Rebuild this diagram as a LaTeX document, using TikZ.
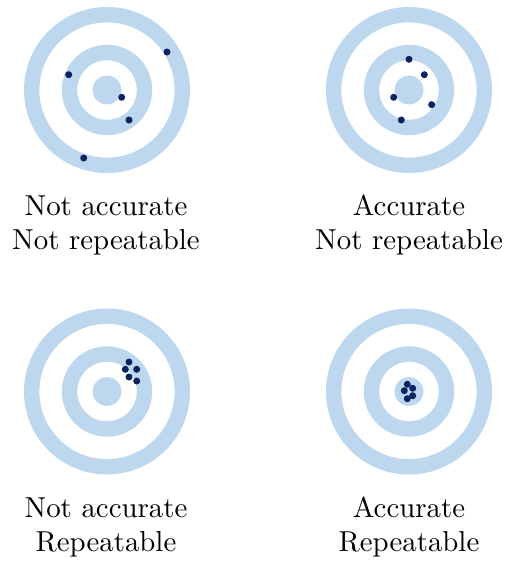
\documentclass[tikz,border=0pt]{standalone}
\definecolor{ringblue}{RGB}{189,215,238}
\definecolor{dotblue}{RGB}{10,36,99}
\tikzset{
  ring/.style={draw=ringblue, line width=5.34pt},
  bull/.style={fill=ringblue},
  hit/.style={fill=dotblue},
  lbl/.style={anchor=base, inner sep=0pt},
}
\newcommand{\target}[1]{%
  \draw[ring] (#1) circle[radius=75.3];
  \draw[ring] (#1) circle[radius=37.5];
  \fill[bull] (#1) circle[radius=14.4];
}
\begin{document}
\begin{tikzpicture}[x=0.3466pt,y=-0.3466pt]
\useasboundingbox (0,0) rectangle (504,563);
\coordinate (tA) at (107,90);
\coordinate (tB) at (409,90);
\coordinate (tC) at (107,391.5);
\coordinate (tD) at (409,391.5);
\target{tA}
\target{tB}
\target{tC}
\target{tD}
% hits
\foreach \p in {(167,52),(68.7,74.7),(121.7,97.3),(129,120),(83.7,158)}
  \fill[hit] \p circle[radius=3.5];
\foreach \p in {(409,59.3),(424.3,74.7),(393.7,97.3),(431.7,104.7),(401.3,120)}
  \fill[hit] \p circle[radius=3.5];
\foreach \p in {(129,362),(125.3,369.3),(136.7,369.3),(129,377),(136.7,381)}
  \fill[hit] \p circle[radius=3.5];
\foreach \p in {(407.3,384.3),(404.3,390.7),(412.7,388.3),(412.7,395.7),(407.3,398.7)}
  \fill[hit] \p circle[radius=3.5];
% labels
\node[lbl] (la1) at (106,215) {Not accurate};
\node[lbl] (la2) at (106,249) {Not repeatable};
\node[lbl] (lb1) at (409,215) {Accurate};
\node[lbl] (lb2) at (409,249) {Not repeatable};
\node[lbl] (lc1) at (106,517.3) {Not accurate};
\node[lbl] (lc2) at (106,551.3) {Repeatable};
\node[lbl] (ld1) at (409,517.3) {Accurate};
\node[lbl] (ld2) at (409,551.3) {Repeatable};
\end{tikzpicture}
\end{document}
